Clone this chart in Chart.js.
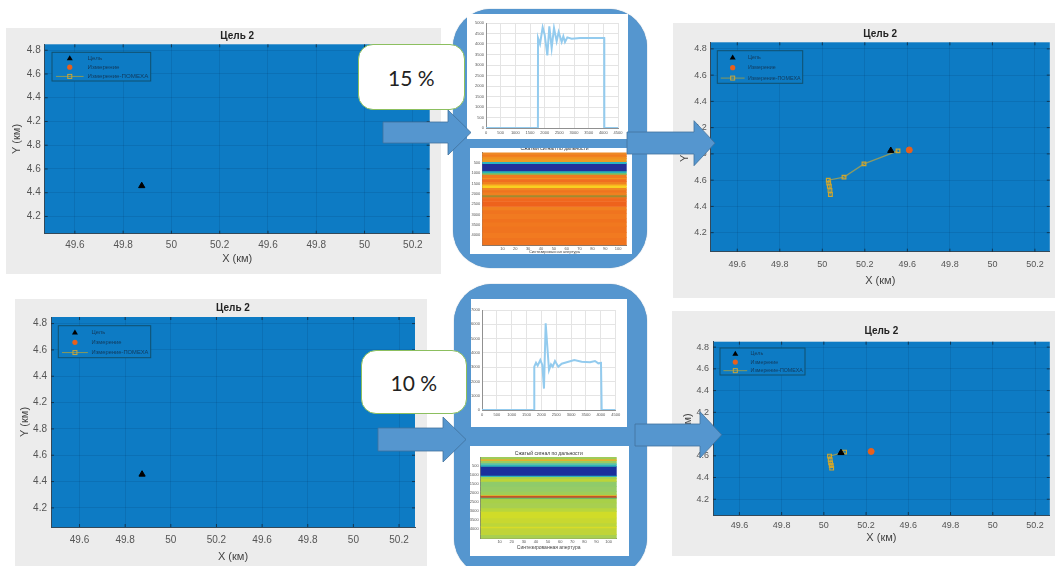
<!DOCTYPE html>
<html lang="ru"><head><meta charset="utf-8">
<script src="https://cdn.jsdelivr.net/npm/chart.js@4/dist/chart.umd.min.js"></script>
<style>
html,body{margin:0;padding:0;background:#fff;overflow:hidden}
#stage{position:relative;width:1055px;height:566px;overflow:hidden}
canvas{position:absolute;display:block}
.soft{filter:blur(.7px)}
.panel{background:#ececec}
.big{position:absolute;background:#5596cf;border-radius:38px;box-shadow:0 0 1px #41719c}
.white{position:absolute;background:#fff}
.call{position:absolute;background:#fff;border:1.5px solid #8cbf5f;border-radius:15px;box-sizing:border-box;display:flex;align-items:center;justify-content:center;font:21px Lato,sans-serif;color:#222}
svg{position:absolute;left:0;top:0}
</style></head><body><div id="stage">
<div class="big" style="left:453px;top:9px;width:194px;height:259px"></div>
<div class="big" style="left:454px;top:284px;width:193px;height:292px"></div>
<div class="white" style="left:467px;top:14px;width:161px;height:125px"></div>
<div class="white" style="left:470px;top:148px;width:162px;height:106px"></div>
<div class="white" style="left:471px;top:299px;width:156px;height:128px"></div>
<div class="white" style="left:470px;top:446px;width:159px;height:110px"></div>
</div>
<script>
// ---- data ----
const chartTitle = 'Цель 2';
const xAxisTitle = 'X (км)';
const yAxisTitle = 'Y (км)';
const legendNames = ['Цель', 'Измерение', 'Измерение-ПОМЕХА'];
const xTickValues = [49.6, 49.8, 50, 50.2, 50.4, 50.6, 50.8, 51];
const xTickLabels = ['49.6', '49.8', '50', '50.2', '49.6', '49.8', '50', '50.2'];
const yTickValues = [4.2, 4.4, 4.6, 4.8, 5, 5.2, 5.4, 5.6];
const yTickLabels = ['4.2', '4.4', '4.6', '4.8', '4.2', '4.4', '4.6', '4.8'];

const targetA = [{x: 49.877, y: 4.458}];
const targetB = [{x: 49.874, y: 4.455}];
const targetC = [{x: 50.322, y: 4.825}];
const targetD = [{x: 50.081, y: 4.628}];
const measureC = [{x: 50.409, y: 4.83}];
const measureD = [{x: 50.224, y: 4.64}];
const jammedC = [{x:50.356,y:4.823},{x:50.196,y:4.724},{x:50.102,y:4.623},{x:50.028,y:4.6},{x:50.03,y:4.577},{x:50.033,y:4.554},{x:50.036,y:4.522},{x:50.038,y:4.491}];
const jammedD = [{x:50.098,y:4.634},{x:50.027,y:4.597},{x:50.03,y:4.563},{x:50.032,y:4.535},{x:50.035,y:4.511},{x:50.037,y:4.486}];

const signalTopX = [0,1770,1773,1841,1932,2000,2091,2159,2239,2318,2409,2477,2580,2636,2693,2773,2920,3205,3886,4030,4033,4500];
const signalTopY = [0,0,4286,4000,4795,4444,3460,4841,3810,4762,4127,4571,4095,4365,4095,4317,4254,4286,4286,4286,0,0];
const signalBotX = [0,1757,1760,1818,1874,1963,2030,2086,2143,2255,2322,2380,2457,2569,2682,2850,3107,3355,3635,3803,3915,4005,4028,4500];
const signalBotY = [0,0,3033,3313,3103,3500,3150,1500,6067,2800,3197,3033,3430,3033,3243,3340,3500,3383,3340,3430,3267,3300,0,0];
const signalXTicks = [0,500,1000,1500,2000,2500,3000,3500,4000,4500];

const heatTitle = 'Сжатый сигнал по дальности';
const heatXTitle = 'Синтезированная апертура';
const heatXTicks = [10,20,30,40,50,60,70,80,90,100];
const heatYTicks = [500,1000,1500,2000,2500,3000,3500,4000];
const heatTopBands = [96,96,96,160,96,352,96,64,160,64,128,128,64,96,112,112,128,96,64,160,240,160,192,240,160,192,320,240,368];
const heatTopColors = ['#ee8a26','#f07c20','#f09022','#ee9a22','#2ab4c4','#22309a','#2ab4b8','#7cc060','#f07a20','#f29020','#f06e20','#f08220','#f9b820','#f8d020','#f08820','#ee7420','#f08020','#a08a30','#f07420','#f0681e','#ee621c','#f08020','#f0741f','#f17a20','#f0721e','#f1781f','#f0741f','#f27a20','#f0741f'];
const heatBotBands = [111,93,130,93,93,500,74,111,148,278,278,185,56,93,74,240,278,185,370,278,185,93,370,222];
const heatBotColors = ['#9ecb5a','#e3b030','#9acb60','#5cc0a8','#2fb3b8','#1a2f9c','#2fb3b8','#a3cf50','#bcd438','#8fcb6a','#96cc66','#9ecf58','#d8b030','#c2552a','#6fb86a','#a8d048','#a8cf50','#b8d63c','#d0dc28','#c8d830','#bcd63a','#d8dc28','#c0d438','#a8cf50'];

// ---- layout ----
const stage = document.getElementById('stage');
const X_RANGE = [49.475, 51.07], Y_RANGE = [4.055, 5.65];
function addCanvas(r, extra){
  const c = document.createElement('canvas');
  c.width = r.w; c.height = r.h;
  c.style.cssText = `left:${r.x}px;top:${r.y}px;width:${r.w}px;height:${r.h}px`;
  c.className = 'soft' + (extra ? ' ' + extra : '');
  stage.appendChild(c);
  return c.getContext('2d');
}
const plotFill = { id:'plotFill', beforeDraw(ch, a, o){ const {left,top,width,height}=ch.chartArea; ch.ctx.save(); ch.ctx.fillStyle=o.color; ch.ctx.fillRect(left,top,width,height); ch.ctx.restore(); } };
const innerTicks = { id:'innerTicks', afterDatasetsDraw(ch){ const {left,right,top,bottom}=ch.chartArea, c=ch.ctx; c.save(); c.strokeStyle='rgba(20,30,40,.7)'; c.lineWidth=1; c.beginPath();
  ch.scales.x.ticks.forEach(t=>{const p=ch.scales.x.getPixelForValue(t.value); c.moveTo(p,bottom);c.lineTo(p,bottom-3);c.moveTo(p,top);c.lineTo(p,top+3);});
  ch.scales.y.ticks.forEach(t=>{const p=ch.scales.y.getPixelForValue(t.value); c.moveTo(left,p);c.lineTo(left+3,p);c.moveTo(right,p);c.lineTo(right-3,p);});
  c.stroke(); c.restore(); } };
const boxLegend = { id:'boxLegend', afterDatasetsDraw(ch, a, o){ const c=ch.ctx, {left,top}=ch.chartArea, x=left+o.dx, y=top+o.dy, w=o.w, h=o.h;
  c.save(); c.fillStyle='#0d7bc4'; c.strokeStyle='#11506f'; c.lineWidth=1; c.fillRect(x,y,w,h); c.strokeRect(x,y,w,h);
  const mx=x+w*0.18, tx=x+w*0.36, rows=[.21,.52,.84].map(f=>y+h*f);
  c.fillStyle='#000'; c.beginPath(); c.moveTo(mx,rows[0]-3); c.lineTo(mx+3,rows[0]+2); c.lineTo(mx-3,rows[0]+2); c.closePath(); c.fill();
  c.fillStyle='#e8601c'; c.beginPath(); c.arc(mx,rows[1],2.6,0,7); c.fill();
  c.strokeStyle='#8a9a5a'; c.beginPath(); c.moveTo(x+w*.04,rows[2]); c.lineTo(x+w*.32,rows[2]); c.stroke();
  c.strokeStyle='#c9a63a'; c.strokeRect(mx-2,rows[2]-2,4,4);
  c.fillStyle='#123a5c'; c.font=(w/16)+'px "Liberation Sans"'; c.textBaseline='middle';
  ch.data.datasets.slice(0,3).forEach((d,i)=>c.fillText(d.label,tx,rows[i])); c.restore(); } };

function trackChart(p, target, measure, jammed){
  const r = p.rect, pl = p.plot;
  new Chart(addCanvas(r,'panel'), {
    type:'scatter',
    data:{datasets:[
      {label:legendNames[0], data:target, pointStyle:'triangle', pointRadius:3.6, backgroundColor:'#000', borderColor:'#000', order:1},
      {label:legendNames[1], data:measure, pointStyle:'circle', pointRadius:3, backgroundColor:'#e8601c', borderColor:'#e8601c', order:2},
      {label:legendNames[2], data:jammed, showLine:true, borderColor:'#8a9a66', borderWidth:1.3, pointStyle:'rect', pointRadius:2.6, pointBackgroundColor:'rgba(0,0,0,0)', pointBorderColor:'#cfa62e', pointBorderWidth:1.2, order:3}
    ]},
    options:{
      responsive:false, animation:false, events:[], devicePixelRatio:1,
      layout:{padding:{left:0,top:0,bottom:0,right:r.x+r.w-pl.r}},
      plugins:{
        legend:{display:false}, tooltip:{enabled:false},
        title:{display:true,text:chartTitle,fullSize:false,color:'#222',font:{family:'Liberation Sans',size:10,weight:'bold',lineHeight:1},padding:{top:pl.t-r.y-10-p.titleGap,bottom:p.titleGap}},
        plotFill:{color:'#0d7bc4'},
        boxLegend:p.legend
      },
      scales:{
        x:{type:'linear',min:X_RANGE[0],max:X_RANGE[1],
          afterBuildTicks:s=>{s.ticks=xTickValues.map(v=>({value:v}));},
          afterFit:s=>{s.height=r.y+r.h-pl.b;},
          grid:{color:'rgba(0,30,60,.11)',drawTicks:false}, border:{color:'#33495a'},
          ticks:{autoSkip:false,maxRotation:0,padding:p.xPad,color:'#555',font:{family:'Liberation Sans',size:p.fs},callback:(v,i)=>xTickLabels[i]},
          title:{display:true,text:xAxisTitle,color:'#444',font:{family:'Liberation Sans',size:11,lineHeight:1},padding:{top:0,bottom:p.xTitlePad}}},
        y:{type:'linear',min:Y_RANGE[0],max:Y_RANGE[1],
          afterBuildTicks:s=>{s.ticks=yTickValues.map(v=>({value:v}));},
          afterFit:s=>{s.width=pl.l-r.x;},
          grid:{color:'rgba(0,30,60,.11)',drawTicks:false}, border:{color:'#33495a'},
          ticks:{autoSkip:false,padding:4,color:'#555',font:{family:'Liberation Sans',size:p.fs},callback:(v,i)=>yTickLabels[i]},
          title:{display:true,text:yAxisTitle,color:'#444',font:{family:'Liberation Sans',size:11,lineHeight:1},padding:{top:p.yTitlePad,bottom:0}}}
      }
    },
    plugins:[plotFill,innerTicks,boxLegend]
  });
}
trackChart({rect:{x:6,y:28,w:435,h:246},plot:{l:44.7,r:429.7,t:44.3,b:233.7},titleGap:3,fs:10,xPad:6,xTitlePad:9.5,yTitlePad:5,legend:{dx:7.3,dy:8,w:98.7,h:28.7}}, targetA, [], []);
trackChart({rect:{x:15,y:299,w:412,h:267},plot:{l:51,r:415,t:317,b:527},titleGap:4,fs:10,xPad:7,xTitlePad:4,yTitlePad:4.5,legend:{dx:7.3,dy:8.7,w:92.4,h:32}}, targetB, [], []);
trackChart({rect:{x:673,y:23,w:382,h:275},plot:{l:710.7,r:1050,t:42.3,b:251.7},titleGap:3,fs:9,xPad:7,xTitlePad:11.8,yTitlePad:6.5,legend:{dx:6.6,dy:8.4,w:85.4,h:32.6}}, targetC, measureC, jammedC);
trackChart({rect:{x:672,y:311,w:383,h:245},plot:{l:713,r:1051.7,t:341.7,b:515},titleGap:5,fs:9,xPad:5,xTitlePad:12.5,yTitlePad:10.5,legend:{dx:7,dy:6.3,w:85,h:27}}, targetD, measureD, jammedD);

const plainTick = v => String(v);
function signalChart(r, pl, xs, ys, yMax, yStep){
  new Chart(addCanvas(r), {
    type:'line',
    data:{datasets:[{data:xs.map((x,i)=>({x,y:ys[i]})),borderColor:'#93cbee',borderWidth:2,pointRadius:0,tension:0}]},
    options:{responsive:false,animation:false,events:[],devicePixelRatio:1,
      layout:{padding:{top:pl.t-r.y,right:r.x+r.w-pl.r}},
      plugins:{legend:{display:false},tooltip:{enabled:false},title:{display:false}},
      scales:{
        x:{type:'linear',min:0,max:4500,afterBuildTicks:s=>{s.ticks=signalXTicks.map(v=>({value:v}));},afterFit:s=>{s.height=r.y+r.h-pl.b;},
          grid:{color:'#e4e4e4',drawTicks:false},border:{color:'#909090'},
          ticks:{autoSkip:false,maxRotation:0,padding:2,color:'#555',font:{family:'Liberation Sans',size:4},callback:plainTick}},
        y:{type:'linear',min:0,max:yMax,afterFit:s=>{s.width=pl.l-r.x;},
          grid:{color:'#e4e4e4',drawTicks:false},border:{color:'#909090'},
          ticks:{stepSize:yStep,autoSkip:false,padding:2,color:'#555',font:{family:'Liberation Sans',size:4},callback:plainTick}}
      }
    }
  });
}
signalChart({x:467,y:14,w:161,h:125},{l:486,r:618,t:23,b:128},signalTopX,signalTopY,5000,500);
signalChart({x:471,y:299,w:156,h:127},{l:482,r:615.7,t:310,b:410},signalBotX,signalBotY,7000,1000);

function heatChart(r, pl, bands, colors, xTitleSize, xTitlePad){
  const total = bands.reduce((a,b)=>a+b,0);
  new Chart(addCanvas(r), {
    type:'bar',
    data:{datasets:bands.map((t,i)=>({data:[{x:50,y:t}],backgroundColor:colors[i],borderWidth:0,barThickness:400,stack:'s'}))},
    options:{responsive:false,animation:false,events:[],devicePixelRatio:1,
      layout:{padding:{right:r.x+r.w-pl.r}},
      plugins:{legend:{display:false},tooltip:{enabled:false},
        title:{display:true,text:heatTitle,fullSize:false,color:'#333',font:{family:'Liberation Sans',size:5,weight:'normal',lineHeight:1},padding:{top:pl.t-r.y-6,bottom:1}}},
      scales:{
        x:{type:'linear',stacked:true,min:0,max:101,afterBuildTicks:s=>{s.ticks=heatXTicks.map(v=>({value:v}));},afterFit:s=>{s.height=r.y+r.h-pl.b;},
          grid:{display:false,drawTicks:false},border:{color:'#777'},
          ticks:{autoSkip:false,maxRotation:0,padding:1,color:'#555',font:{family:'Liberation Sans',size:4},callback:plainTick},
          title:{display:true,text:heatXTitle,color:'#444',font:{family:'Liberation Sans',size:xTitleSize,lineHeight:1},padding:{top:0,bottom:xTitlePad}}},
        y:{type:'linear',stacked:true,reverse:true,min:0,max:total,afterBuildTicks:s=>{s.ticks=heatYTicks.map(v=>({value:v}));},afterFit:s=>{s.width=pl.l-r.x;},
          grid:{display:false,drawTicks:false},border:{color:'#777'},
          ticks:{autoSkip:false,padding:2,color:'#555',font:{family:'Liberation Sans',size:4},callback:plainTick}}
      }
    }
  });
}
heatChart({x:470,y:148,w:162,h:106},{l:482.3,r:626.7,t:152,b:245.3},heatTopBands,heatTopColors,4,0);
heatChart({x:470,y:446,w:159,h:110},{l:480.7,r:616.7,t:457,b:538.7},heatBotBands,heatBotColors,5,5.5);

// ---- callouts & arrows ----
[[357.7,44.3,107.3,65.7,'15 %'],[360.7,350,106.3,64,'10 %']].forEach(([x,y,w,h,t])=>{
  const d=document.createElement('div'); d.className='call'; d.textContent=t;
  d.style.cssText=`left:${x}px;top:${y}px;width:${w}px;height:${h}px`; stage.appendChild(d);
});
const arrows=[
 [383,122,143,448,110,155,471],
 [627,132,154,694,120.7,165.7,715],
 [378,428,451,443,417,462,466],
 [635,424,446,700,411.7,458,721.7]
];
const NS='http://www.w3.org/2000/svg', svg=document.createElementNS(NS,'svg');
svg.setAttribute('width',1055); svg.setAttribute('height',566);
arrows.forEach(([x0,s0,s1,hx,h0,h1,tip])=>{
  const p=document.createElementNS(NS,'polygon'), m=(h0+h1)/2;
  p.setAttribute('points',`${x0},${s0} ${hx},${s0} ${hx},${h0} ${tip},${m} ${hx},${h1} ${hx},${s1} ${x0},${s1}`);
  p.setAttribute('fill','#5596cf'); p.setAttribute('stroke','#41719c'); p.setAttribute('stroke-width','0.8');
  svg.appendChild(p);
});
stage.appendChild(svg);
</script></body></html>
